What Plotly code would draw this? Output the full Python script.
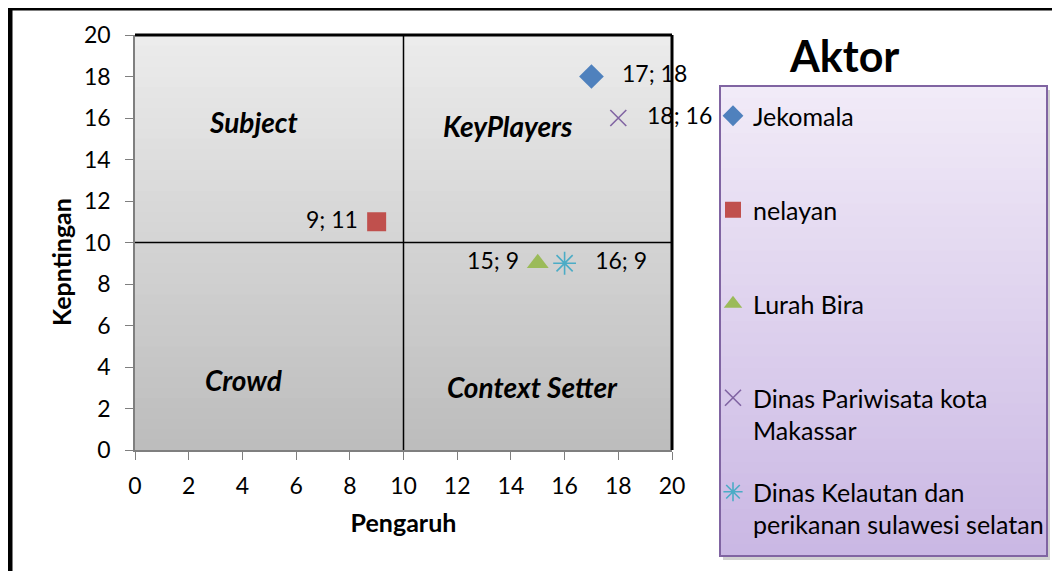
import plotly.graph_objects as go

# ---- data ----
actors = ["Jekomala", "nelayan", "Lurah Bira", "Dinas Pariwisata kota<br>Makassar",
          "Dinas Kelautan dan<br>perikanan sulawesi selatan"]
pengaruh = [17, 9, 15, 18, 16]
kepentingan = [18, 11, 9, 16, 9]
symbols = ["diamond", "square", "triangle-up", "x-thin", "asterisk"]
colors = ["#4f81bd", "#c0504d", "#9bbb59", "#8064a2", "#4bacc6"]
label_pos = ["middle right", "middle left", "middle left", "middle right", "middle right"]
quadrant_names = ["Subject", "KeyPlayers", "Crowd", "Context Setter"]
quadrant_xy = [(4.4, 15.8), (13.9, 15.6), (4.05, 3.35), (14.8, 3.05)]
x_ticks = list(range(0, 21, 2))
y_ticks = list(range(0, 21, 2))

FONT = "Lato"
W, H = 1060, 571
OFF = 8  # page body margin
L, R, T, B = 135 - OFF, 672 - OFF, 35 - OFF, 450 - OFF
pw, ph = R - L, B - T

def px(x):
    return (x - OFF - L) / pw

def py(y):
    return (B - (y - OFF)) / ph

fig = go.Figure()
for i, name in enumerate(actors):
    right = label_pos[i].endswith("right")
    tmpl = ("&nbsp;&nbsp;&nbsp;%{x}; %{y}" if right else "%{x}; %{y}&nbsp;")
    lw = 1.6 if symbols[i] in ("x-thin", "asterisk") else 0
    legend_label = name if "<br>" in name else name + "<br>&nbsp;"
    fig.add_trace(go.Scatter(
        x=[pengaruh[i]], y=[kepentingan[i]], name=legend_label, mode="markers+text",
        marker=dict(symbol=symbols[i], color=colors[i], size=19 if i != 3 else 16,
                    line=dict(color=colors[i], width=lw)),
        texttemplate=tmpl, textposition=label_pos[i],
        textfont=dict(family=FONT, size=23, color="black"),
        legendgroup=str(i), cliponaxis=False,
    ))

shapes = []
# outer border (left edge + top edge visible)
shapes.append(dict(type="rect", xref="paper", yref="paper", x0=px(10), x1=px(1075),
                   y0=py(590), y1=py(OFF), line=dict(color="black", width=5), layer="below"))
# plot gradient background
N = 40
for k in range(N):
    t = k / (N - 1)
    c = int(236 - t * (236 - 189))
    shapes.append(dict(type="rect", xref="x domain", yref="y domain", x0=0, x1=1,
                       y0=max(0, 1 - (k + 1) / N - 0.006), y1=1 - k / N, line=dict(width=0),
                       fillcolor=f"rgb({c},{c},{c})", layer="below"))
# legend box: shadow + gradient
lx0, lx1, ly0, ly1 = 720, 1047, 86, 556
shapes.append(dict(type="rect", xref="paper", yref="paper", x0=px(lx0 + 3), x1=px(lx1 + 3),
                   y0=py(ly1 + 4), y1=py(ly0 + 4), line=dict(width=0),
                   fillcolor="rgba(0,0,0,0.18)", layer="below"))
M = 40
for k in range(M):
    t = k / (M - 1)
    r = int(241 - t * (241 - 202))
    g = int(235 - t * (235 - 184))
    b = int(248 - t * (248 - 228))
    ya = ly0 + (ly1 - ly0) * k / M
    yb = min(ly1, ly0 + (ly1 - ly0) * (k + 1) / M + 2)
    shapes.append(dict(type="rect", xref="paper", yref="paper", x0=px(lx0), x1=px(lx1),
                       y0=py(yb), y1=py(ya), line=dict(width=0),
                       fillcolor=f"rgb({r},{g},{b})", layer="below"))
shapes.append(dict(type="rect", xref="paper", yref="paper", x0=px(lx0), x1=px(lx1),
                   y0=py(ly1), y1=py(ly0), line=dict(color="#8064a2", width=2), layer="below"))
# quadrant lines
shapes.append(dict(type="line", xref="x", yref="y domain", x0=10, x1=10, y0=0, y1=1,
                   line=dict(color="black", width=1.5), layer="above"))
shapes.append(dict(type="line", xref="x domain", yref="y", x0=0, x1=1, y0=10, y1=10,
                   line=dict(color="black", width=1.5), layer="above"))
# top & right borders of plot
shapes.append(dict(type="line", xref="x domain", yref="y domain", x0=0, x1=1, y0=1, y1=1,
                   line=dict(color="black", width=3), layer="above"))
shapes.append(dict(type="line", xref="x domain", yref="y domain", x0=1, x1=1, y0=0, y1=1,
                   line=dict(color="black", width=3), layer="above"))

annotations = []
for name, (qx, qy) in zip(quadrant_names, quadrant_xy):
    annotations.append(dict(x=qx, y=qy, xref="x", yref="y", text=f"<b><i>{name}</i></b>",
                            showarrow=False, xanchor="center", yanchor="middle",
                            font=dict(family=FONT, size=28, color="black")))
annotations.append(dict(x=px(844), y=py(55), xref="paper", yref="paper", text="<b>Aktor</b>",
                        showarrow=False, xanchor="center", yanchor="middle",
                        font=dict(family=FONT, size=43, color="black")))
# y-axis title (placed like the original, slightly below the axis centre)
annotations.append(dict(x=px(61), y=py(262), xref="paper", yref="paper",
                        text="<b>Kepntingan</b>", textangle=-90, showarrow=False,
                        xanchor="center", yanchor="middle",
                        font=dict(family=FONT, size=25, color="black")))

fig.update_layout(
    width=W, height=H,
    margin=dict(l=L, r=W - R, t=T, b=H - B, autoexpand=False),
    paper_bgcolor="white", plot_bgcolor="rgba(0,0,0,0)",
    shapes=shapes, annotations=annotations,
    font=dict(family=FONT, size=23, color="black"),
    legend=dict(x=px(713), y=py(93), xanchor="left", yanchor="top",
                bgcolor="rgba(0,0,0,0)", borderwidth=0, valign="top", maxheight=520,
                tracegroupgap=26, font=dict(family=FONT, size=25, color="black")),
)
fig.update_xaxes(range=[0, 20], tickvals=x_ticks, showgrid=False, zeroline=False,
                 showline=True, linecolor="#7f7f7f", linewidth=1.5,
                 ticks="outside", ticklen=8, tickcolor="#7f7f7f", ticklabelstandoff=7,
                 tickfont=dict(family=FONT, size=23, color="black"),
                 title=dict(text="<b>Pengaruh</b>", standoff=16,
                            font=dict(family=FONT, size=25, color="black")))
fig.update_yaxes(range=[0, 20], tickvals=y_ticks, showgrid=False, zeroline=False,
                 showline=True, linecolor="#7f7f7f", linewidth=1.5,
                 ticks="outside", ticklen=8, tickcolor="#7f7f7f", ticklabelstandoff=10,
                 tickfont=dict(family=FONT, size=23, color="black"))

fig.write_html("out.html")
